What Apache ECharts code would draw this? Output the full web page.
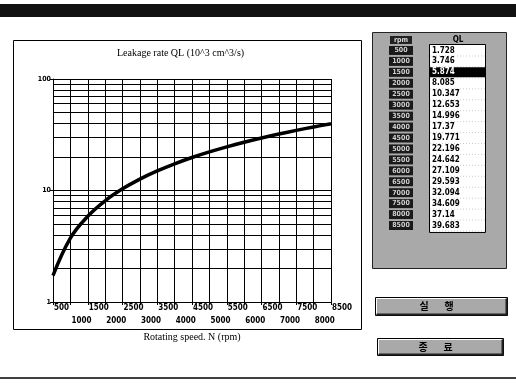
<!DOCTYPE html>
<html><head><meta charset="utf-8">
<script src="https://cdn.jsdelivr.net/npm/echarts@6/dist/echarts.min.js"></script>
<style>html,body{margin:0;padding:0;background:#fff}#c{width:516px;height:383px}</style>
</head><body><div id="c"></div>
<script>
// ---- data ----
const rpm = [500,1000,1500,2000,2500,3000,3500,4000,4500,5000,5500,6000,6500,7000,7500,8000,8500];
const ql  = [1.728,3.746,5.874,8.085,10.347,12.653,14.996,17.37,19.771,22.196,24.642,27.109,29.593,32.094,34.609,37.14,39.683];
const yMinorLines = [2,3,4,5,6,7,8,9,20,30,40,50,60,70,80,90];
const titleText = 'Leakage rate QL (10^3 cm^3/s)';
const xName = 'Rotating speed. N (rpm)';
const tableHeader = ['rpm','QL'];
const buttonLabels = ['실행','종료'];
const selectedRow = 2;

const GRAY = '#a9a9a9';
const narrow = '"Liberation Sans Narrow","DejaVu Sans Condensed","Liberation Sans",sans-serif';
const serif = '"Liberation Serif","DejaVu Serif",serif';

const chart = echarts.init(document.getElementById('c'), null, {renderer:'canvas'});

const g = [];
g.push({type:'rect', shape:{x:0,y:4,width:516,height:13}, style:{fill:'#111'}, z:1});
g.push({type:'rect', shape:{x:13.5,y:40.5,width:348,height:289}, style:{fill:'none',stroke:'#000',lineWidth:1}, z:1});
g.push({type:'line', shape:{x1:0,y1:378,x2:516,y2:378}, style:{stroke:'#000',lineWidth:1.5}, z:1});
g.push({type:'rect', shape:{x:372.5,y:32.5,width:134,height:236}, style:{fill:GRAY,stroke:'#222',lineWidth:1}, z:1});
g.push({type:'rect', shape:{x:390,y:36,width:22,height:8}, style:{fill:'#222'}, z:2});
g.push({type:'text', style:{x:401,y:40,text:tableHeader[0],fill:'#ddd',font:'bold 7px '+narrow,align:'center',verticalAlign:'middle'}, z:3});
g.push({type:'text', style:{x:458,y:40,text:tableHeader[1],fill:'#000',font:'bold 8px '+narrow,align:'center',verticalAlign:'middle'}, z:3});
const rowH = 10.94, row0 = 45;
g.push({type:'rect', shape:{x:429.5,y:row0-0.5,width:56,height:rowH*rpm.length+2}, style:{fill:'#fff',stroke:'#000',lineWidth:1}, z:2});
rpm.forEach((r,i)=>{
  const cy = row0 + rowH*i + rowH/2;
  g.push({type:'rect', shape:{x:389,y:cy-4.5,width:24,height:9}, style:{fill:'#1a1a1a'}, z:2});
  g.push({type:'text', style:{x:401,y:cy,text:String(r),fill:'#cfcfcf',font:'bold 7px '+narrow,align:'center',verticalAlign:'middle'}, z:3});
  if (i===selectedRow) {
    g.push({type:'rect', shape:{x:430,y:cy-5,width:55,height:10}, style:{fill:'#000'}, z:3});
  }
  g.push({type:'text', style:{x:432,y:cy,text:String(ql[i]),fill:i===selectedRow?'#fff':'#000',font:'bold 8px '+narrow,align:'left',verticalAlign:'middle'}, z:4});
  g.push({type:'line', shape:{x1:430,y1:cy+5.5,x2:485,y2:cy+5.5}, style:{stroke:'#999',lineWidth:0.5,lineDash:[1,2]}, z:3});
});
function button(x,y,w,h,label){
  g.push({type:'rect', shape:{x:x,y:y,width:w,height:h}, style:{fill:GRAY,stroke:'#000',lineWidth:1}, z:1});
  g.push({type:'polyline', shape:{points:[[x+1,y+h-1],[x+1,y+1],[x+w-1,y+1]]}, style:{stroke:'#fff',lineWidth:1,fill:null}, z:2});
  g.push({type:'polyline', shape:{points:[[x+1,y+h-1],[x+w-1,y+h-1],[x+w-1,y+1]]}, style:{stroke:'#222',lineWidth:2,fill:null}, z:2});
  const chars = Array.from(label);
  chars.forEach((c,k)=>{
    g.push({type:'text', style:{x:x+w/2-5+(k-(chars.length-1)/2)*25,y:y+h/2,text:c,fill:'#000',font:'bold 10px "Noto Sans CJK KR",sans-serif',align:'center',verticalAlign:'middle'}, z:3});
  });
}
button(375.5,297.5,132,18,buttonLabels[0]);
button(377.5,338.5,126,17,buttonLabels[1]);

const labelBase = {align:'left', fontSize:8, fontWeight:'bold', fontFamily:narrow, color:'#000', padding:[0,0,0,1],
  showMinLabel:true, showMaxLabel:true};

const option = {
  animation:false,
  backgroundColor:'#fff',
  title:{text:titleText, left:112, top:43, textStyle:{fontFamily:serif,fontSize:10,fontWeight:'normal',color:'#000'}},
  grid:{left:53, top:79, right:185, bottom:81, containLabel:false},
  xAxis:[{
    type:'value', min:500, max:8500, interval:500, position:'bottom',
    name:xName, nameLocation:'middle', nameGap:30,
    nameTextStyle:{fontFamily:serif,fontSize:10,color:'#000'},
    axisLine:{show:true,lineStyle:{color:'#000',width:1}},
    axisTick:{show:true,length:3,lineStyle:{color:'#000'}},
    splitLine:{show:true,lineStyle:{color:'#000',width:1}},
    axisLabel:Object.assign({margin:2, formatter:function(v){ return (Math.round(v/500)%2===1)? String(v) : ''; }}, labelBase)
  },{
    type:'value', min:500, max:8500, interval:500, position:'bottom', offset:0,
    axisLine:{show:false}, axisTick:{show:false}, splitLine:{show:false},
    axisLabel:Object.assign({margin:15, formatter:function(v){ return (Math.round(v/500)%2===0)? String(v) : ''; }}, labelBase)
  }],
  yAxis:{
    type:'log', logBase:10, min:1, max:100,
    axisLine:{show:true,lineStyle:{color:'#000',width:1}},
    axisTick:{show:true,length:3,lineStyle:{color:'#000'}},
    splitLine:{show:true,lineStyle:{color:'#000',width:1}},
    minorTick:{show:false}, minorSplitLine:{show:false},
    axisLabel:{showMinLabel:true, showMaxLabel:true, margin:2, fontSize:7, fontWeight:'bold', fontFamily:narrow, color:'#000'}
  },
  series:[{
    type:'line', xAxisIndex:0,
    data: rpm.map((r,i)=>[r, ql[i]]),
    smooth:0.4,
    showSymbol:false, symbol:'none',
    lineStyle:{color:'#000', width:3.5},
    z:5,
    markLine:{
      silent:true, symbol:['none','none'], label:{show:false},
      lineStyle:{color:'#000', width:1, type:'solid'},
      data: yMinorLines.map(v=>({yAxis:v}))
    }
  }],
  graphic: g
};
chart.setOption(option);
</script>
</body></html>
